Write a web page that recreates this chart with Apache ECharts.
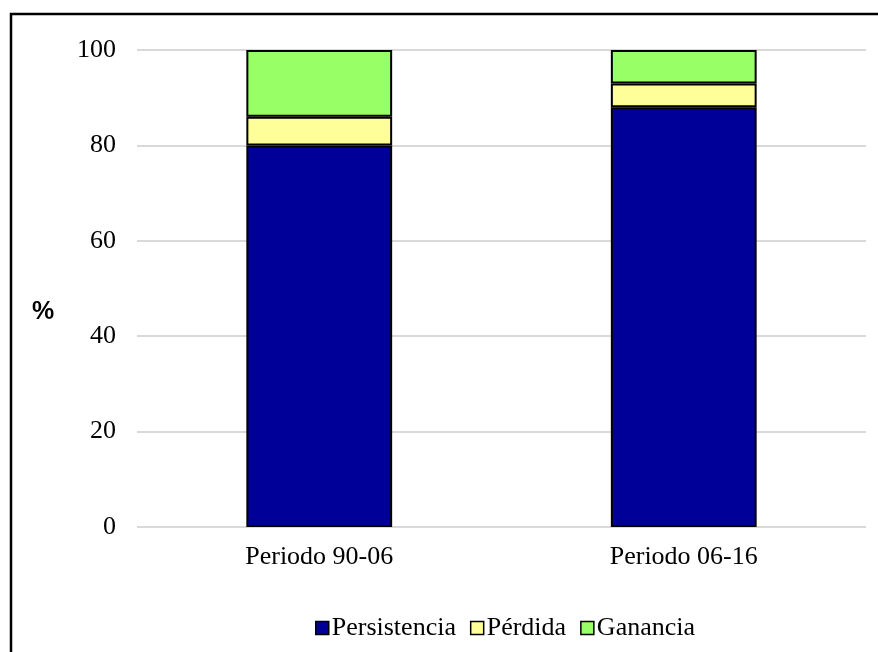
<!DOCTYPE html>
<html>
<head>
<meta charset="utf-8">
<script src="https://cdn.jsdelivr.net/npm/echarts@6/dist/echarts.min.js"></script>
<style>
  html, body { margin: 0; padding: 0; background: #fff; }
  #chart { width: 878px; height: 652px; }
</style>
</head>
<body>
<div id="chart"></div>
<script>
const periods = ["Periodo 90-06", "Periodo 06-16"];
const persistencia = [80, 88];
const perdida = [6, 5];
const ganancia = [14, 7];

const serif = "Liberation Serif";
const chart = echarts.init(document.getElementById("chart"));

const barStyle = (color) => ({
  color: color,
  borderColor: "#000",
  borderWidth: 2,
});

const option = {
  animation: false,
  backgroundColor: "#fff",
  graphic: [
    {
      type: "polyline",
      shape: { points: [[11, 660], [11, 14], [890, 14]] },
      style: { stroke: "#000", lineWidth: 2.5, fill: null },
    },
    {
      type: "text",
      left: 32,
      top: 300,
      style: {
        text: "%",
        fontFamily: "Liberation Sans",
        fontWeight: "bold",
        fontSize: 25,
        fill: "#000",
      },
    },
  ],
  grid: { left: 137, right: 12, top: 50, bottom: 125 },
  legend: {
    bottom: 6,
    left: 310,
    itemWidth: 13,
    itemHeight: 13,
    itemGap: 14,
    icon: "rect",
    textStyle: { fontFamily: serif, fontSize: 26, color: "#000", padding: [0, 0, 0, -2] },
    data: [
      { name: "Persistencia", itemStyle: { borderColor: "#000", borderWidth: 1.5 } },
      { name: "Pérdida", itemStyle: { borderColor: "#000", borderWidth: 1.5 } },
      { name: "Ganancia", itemStyle: { borderColor: "#000", borderWidth: 1.5 } },
    ],
  },
  xAxis: {
    type: "category",
    data: periods,
    axisLine: { show: false },
    axisTick: { show: false },
    axisLabel: { fontFamily: serif, fontSize: 26, color: "#000", margin: 17 },
  },
  yAxis: {
    type: "value",
    min: 0,
    max: 100,
    interval: 20,
    axisLine: { show: false },
    axisTick: { show: false },
    axisLabel: { fontFamily: serif, fontSize: 26, color: "#000", margin: 21 },
    splitLine: { lineStyle: { color: "#d9d9d9", width: 2 } },
  },
  series: [
    { name: "Persistencia", type: "bar", stack: "t", barWidth: "40%", data: persistencia, itemStyle: barStyle("#000099") },
    { name: "Pérdida", type: "bar", stack: "t", data: perdida, itemStyle: barStyle("#ffff99") },
    { name: "Ganancia", type: "bar", stack: "t", data: ganancia, itemStyle: barStyle("#99ff66") },
  ],
};
chart.setOption(option);
</script>
</body>
</html>
